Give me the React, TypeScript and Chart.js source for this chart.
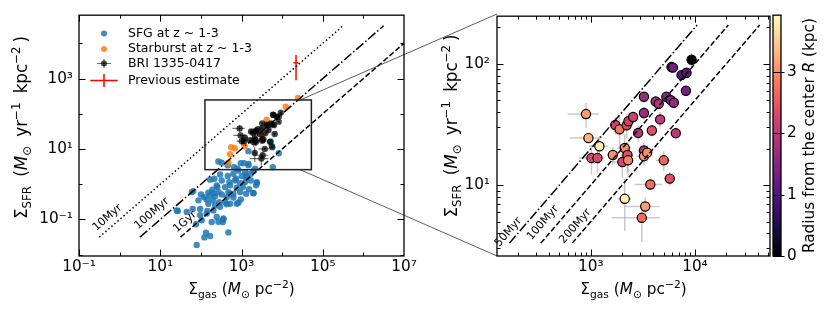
import { useEffect, useRef } from 'react';
import { Chart, registerables } from 'chart.js';

Chart.register(...registerables);

const FONT = "'DejaVu Sans', 'Liberation Sans', sans-serif";
const W = 830;
const H = 317;

// ---------------- data ----------------
// SFG at z ~ 1-3 (blue)
const sfgGas = [5260, 5560, 1480, 8280, 5890, 270, 327, 459, 960, 1480,
  657, 794, 1230, 1690, 297, 459, 632, 1020, 1300, 1970,
  215, 327, 504, 695, 925, 1230, 1690, 2380, 246, 394,
  524, 764, 1080, 1540, 2290, 192, 270, 476, 632, 925,
  1300, 1970, 65, 153, 101, 120, 169, 224, 327, 434,
  632, 960, 87, 139, 196, 281, 394, 524, 840, 153,
  224, 297, 434, 96, 145, 204, 27, 45, 63, 96,
  139, 246, 359, 105, 270, 76, 134, 122, 169, 476,
  79, 1160, 1480, 840, 2160, 736, 1300, 2380, 169, 255,
  203, 524, 60, 25.5, 1960, 766, 185, 358, 346];
const sfgSfr = [16.3, 12.3, 8.7, 7.6, 3.06, 4.43, 4.06, 3.48, 3.97, 3.8,
  3.06, 2.75, 2.21, 1.99, 1.9, 1.71, 1.99, 1.71, 1.53, 2.4,
  1.43, 1.28, 1.15, 1.28, 1.08, 1.15, 1.28, 1.15, 0.93, 0.83,
  0.93, 0.8, 0.83, 0.72, 0.93, 0.7, 0.6, 0.6, 0.54, 0.6,
  0.54, 0.56, 0.64, 0.58, 0.51, 0.43, 0.48, 0.46, 0.51, 0.43,
  0.42, 0.37, 0.35, 0.37, 0.35, 0.31, 0.31, 0.28, 0.3, 0.28,
  0.25, 0.23, 0.27, 0.2, 0.175, 0.18, 0.175, 0.164, 0.2, 0.132,
  0.147, 0.118, 0.1, 0.095, 0.086, 0.073, 0.042, 0.031, 0.034, 0.043,
  0.0188, 3.98, 3.49, 2.47, 2.75, 1.44, 1.78, 1.08, 1.35, 0.83,
  0.56, 0.54, 0.6, 0.18, 0.56, 0.28, 0.085, 0.107, 0.085];

// Starburst at z ~ 1-3 (orange)
const sbGas = [24500, 12300, 4170, 3310, 1200, 560, 680, 525, 475];
const sbSfr = [280, 158, 68, 24.5, 12.0, 11.2, 10.5, 7.1, 4.1];

// BRI 1335-0417 resolved points
const briGas = [900, 950, 1210, 1015, 1160, 1630, 1720, 1890, 2210, 2300,
  2550, 2120, 2250, 2010, 2280, 2850, 3240, 3240, 3240, 3240,
  3480, 3860, 4200, 4490, 4630, 5320, 5870, 6270, 6550, 5950,
  6150, 7430, 8300, 9290, 8190, 5020, 5730, 3730, 2120, 3330, 3090];
const briSfr = [38.5, 24.4, 20.9, 16.7, 16.7, 17.7, 31.3, 28.8, 31.1, 33.6,
  36.4, 20.2, 17.7, 15.5, 16.0, 26.9, 53.5, 39.3, 19.3, 17.3,
  18.5, 28.2, 48.9, 46.8, 34.8, 53.5, 50.1, 47.7, 26.8, 94,
  93, 80.7, 84.4, 108, 59.9, 16.0, 11.3, 10.1, 7.7, 6.66, 5.37];
const briGasErr = [300, 320, 250, 250, 200, 200, 150, 200, 300, 200,
  250, 300, 300, 400, 200, 250, 300, 300, 400, 500,
  400, 400, 400, 400, 500, 500, 500, 400, 600, 400,
  400, 600, 700, 600, 600, 800, 700, 1100, 300, 1200, 1500];
const briSfrErr = [9, 2, 4.5, 4.5, 4, 3, 5, 8, 7, 4,
  4, 6, 5, 4, 4, 4, 6, 5, 3, 3,
  3, 3, 4, 4, 5, 5, 4, 4, 3, 10,
  8, 8, 8, 15, 5, 3, 1.5, 1, 3.5, 1.2, 2];
const briRadius = [3.1, 3.3, 3.8, 2.3, 2.3, 3.0, 2.2, 2.8, 2.4, 2.2,
  2.2, 3.0, 2.4, 2.3, 2.9, 1.9, 1.7, 1.7, 1.9, 3.0,
  3.0, 2.4, 1.8, 1.9, 2.1, 1.5, 1.6, 1.6, 2.0, 1.3,
  1.3, 1.0, 1.1, 0.1, 1.3, 2.6, 2.4, 2.7, 3.8, 3.1, 2.7];

// Previous estimate (red)
const prevGas = [22000];
const prevSfr = [2800];
const prevGasErr = [3000];
const prevSfrErr = [1900];

// depletion-time tracks
const leftTrackLabels = ['10Myr', '100Myr', '1Gyr'];
const leftTrackGas = [[0.316, 316000], [3.16, 3160000], [31.6, 31600000]];
const leftTrackSfr = [[0.0316, 31600], [0.0316, 31600], [0.0316, 31600]];
const leftTrackLabelGas = [0.5, 6.2, 40.8];
const leftTrackLabelSfr = [0.112, 0.148, 0.0855];

const rightTrackLabels = ['50Myr', '100Myr', '200Myr'];
const rightTrackGas = [[166, 10500], [332, 20900], [664, 41800]];
const rightTrackSfr = [[3.32, 209], [3.32, 209], [3.32, 209]];
const rightTrackLabelGas = [162, 347, 711];
const rightTrackLabelSfr = [4.09, 4.88, 4.58];

// axis limits and ticks
const leftXMin = 0.1, leftXMax = 1e7, leftYMin = 0.0092, leftYMax = 63000;
const rightXMin = 126, rightXMax = 52500, rightYMin = 2.6, rightYMax = 247;
const radiusMin = 0, radiusMax = 3.92;
const connectorGas = 27700;

const leftXTicks = [0.1, 10, 1e3, 1e5, 1e7];
const leftXTickLabels = ['10⁻¹', '10¹', '10³', '10⁵', '10⁷'];
const leftXMinor = [1, 100, 1e4, 1e6];
const leftYTicks = [0.1, 10, 1000];
const leftYTickLabels = ['10⁻¹', '10¹', '10³'];
const leftYMinor = [0.01, 1, 100, 1e4];
const rightXTicks = [1e3, 1e4];
const rightXTickLabels = ['10³', '10⁴'];
const rightXMinor = [200, 300, 400, 500, 600, 700, 800, 900, 2000, 3000, 4000, 5000, 6000, 7000, 8000, 9000, 20000, 30000, 40000, 50000];
const rightYTicks = [10, 100];
const rightYTickLabels = ['10¹', '10²'];
const rightYMinor = [3, 4, 5, 6, 7, 8, 9, 20, 30, 40, 50, 60, 70, 80, 90, 200];
const cbarTicks = [0, 1, 2, 3];
const cbarTickLabels = ['0', '1', '2', '3'];

const legendLabels = ['SFG at z ~ 1-3', 'Starburst at z ~ 1-3', 'BRI 1335-0417', 'Previous estimate'];

// ---------------- layout / style ----------------
const LEFT = { left: 79, top: 14, right: 404, bottom: 256 };
const RIGHT = { left: 497, top: 14, right: 770, bottom: 256 };
const CBAR = { left: 773, top: 14, right: 781, bottom: 256 };

const BLUE = 'rgba(31,119,180,0.85)';
const ORANGE = 'rgba(255,127,14,0.85)';
const BLACK_A = 'rgba(0,0,0,0.72)';
const TICK_FONT = 15.3;
const TITLE_FONT = 15.3;
const YTITLE_FONT = 16.8;
const YTITLE_LEN = 183;

const MAGMA = ['#000004', '#140e36', '#3b0f70', '#641a80', '#8c2981', '#b73779', '#de4968', '#f7705c', '#fe9f6d', '#fecf92', '#fcfdbf'];
function hexToRgb(h: string) {
  return [parseInt(h.slice(1, 3), 16), parseInt(h.slice(3, 5), 16), parseInt(h.slice(5, 7), 16)];
}
function magma(t: number) {
  const c = Math.min(1, Math.max(0, t)) * (MAGMA.length - 1);
  const i = Math.min(MAGMA.length - 2, Math.floor(c));
  const f = c - i;
  const a = hexToRgb(MAGMA[i]);
  const b = hexToRgb(MAGMA[i + 1]);
  const m = a.map((v, k) => Math.round(v + (b[k] - v) * f));
  return `rgb(${m[0]},${m[1]},${m[2]})`;
}

type Seg = { t: string; it?: boolean; s?: number; dy?: number };
const SUB = 0.7;
const SUBDY = 0.24;
const SUPDY = -0.42;
const gasTitle: Seg[] = [{ t: 'Σ' }, { t: 'gas', s: SUB, dy: SUBDY }, { t: ' (' }, { t: 'M', it: true }, { t: '⊙', s: SUB, dy: SUBDY }, { t: ' pc' }, { t: '−2', s: SUB, dy: SUPDY }, { t: ')' }];
const sfrTitle: Seg[] = [{ t: 'Σ' }, { t: 'SFR', s: SUB, dy: SUBDY }, { t: ' (' }, { t: 'M', it: true }, { t: '⊙', s: SUB, dy: SUBDY }, { t: ' yr' }, { t: '−1', s: SUB, dy: SUPDY }, { t: ' kpc' }, { t: '−2', s: SUB, dy: SUPDY }, { t: ')' }];
const cbarTitle: Seg[] = [{ t: 'Radius from the center ' }, { t: 'R', it: true }, { t: ' (kpc)' }];

function richText(ctx: CanvasRenderingContext2D, segs: Seg[], x: number, y: number, size: number, rot: number, target?: number) {
  ctx.save();
  ctx.translate(x, y);
  ctx.rotate(rot);
  ctx.textBaseline = 'alphabetic';
  ctx.textAlign = 'left';
  ctx.fillStyle = '#000';
  const f = (g: Seg) => `${g.it ? 'italic ' : ''}${(size * (g.s ?? 1)).toFixed(2)}px ${FONT}`;
  let total = 0;
  const ws = segs.map((g) => {
    ctx.font = f(g);
    const w = ctx.measureText(g.t).width;
    total += w;
    return w;
  });
  // extra spacing only at word boundaries (before a space or after a superscript)
  const gapAt = segs.map((g, i) => i > 0 && (g.t.startsWith(' ') || (segs[i - 1].dy ?? 0) < 0));
  const nGaps = gapAt.filter(Boolean).length;
  const gap = target && nGaps > 0 ? Math.max(0, (target - total) / nGaps) : 0;
  const full = total + gap * nGaps;
  let cx = -full / 2;
  segs.forEach((g, i) => {
    if (gapAt[i]) cx += gap;
    ctx.font = f(g);
    ctx.fillText(g.t, cx, (g.dy ?? 0) * size);
    cx += ws[i];
  });
  ctx.restore();
}

function drawFrameTicks(chart: any, xMaj: number[], xMin: number[], yMaj: number[], yMin: number[]) {
  const { ctx, chartArea: a } = chart;
  const xs = chart.scales.x;
  const ys = chart.scales.y;
  const MAJ = 6.5;
  const MIN = 3.5;
  ctx.save();
  ctx.strokeStyle = '#000';
  ctx.lineWidth = 1;
  ctx.beginPath();
  const vx = (vals: number[], len: number) => vals.forEach((v) => {
    const p = Math.round(xs.getPixelForValue(v)) + 0.5;
    if (p < a.left || p > a.right) return;
    ctx.moveTo(p, a.bottom); ctx.lineTo(p, a.bottom - len);
    ctx.moveTo(p, a.top); ctx.lineTo(p, a.top + len);
  });
  const vy = (vals: number[], len: number) => vals.forEach((v) => {
    const p = Math.round(ys.getPixelForValue(v)) + 0.5;
    if (p < a.top || p > a.bottom) return;
    ctx.moveTo(a.left, p); ctx.lineTo(a.left + len, p);
    ctx.moveTo(a.right, p); ctx.lineTo(a.right - len, p);
  });
  vx(xMaj, MAJ); vx(xMin, MIN); vy(yMaj, MAJ); vy(yMin, MIN);
  ctx.stroke();
  ctx.lineWidth = 1.3;
  ctx.strokeRect(a.left, a.top, a.right - a.left, a.bottom - a.top);
  ctx.restore();
}

function drawErrorBars(chart: any, gas: number[], sfr: number[], gErr: number[], sErr: number[], color: string, lw: number) {
  const { ctx, chartArea: a } = chart;
  const xs = chart.scales.x;
  const ys = chart.scales.y;
  ctx.save();
  ctx.beginPath();
  ctx.rect(a.left, a.top, a.right - a.left, a.bottom - a.top);
  ctx.clip();
  ctx.strokeStyle = color;
  ctx.lineWidth = lw;
  gas.forEach((g, i) => {
    const px = xs.getPixelForValue(g);
    const py = ys.getPixelForValue(sfr[i]);
    const xl = xs.getPixelForValue(Math.max(g - gErr[i], xs.min * 0.5));
    const xr = xs.getPixelForValue(g + gErr[i]);
    const yb = ys.getPixelForValue(Math.max(sfr[i] - sErr[i], ys.min * 0.5));
    const yt = ys.getPixelForValue(sfr[i] + sErr[i]);
    ctx.beginPath();
    ctx.moveTo(xl, py); ctx.lineTo(xr, py);
    ctx.stroke();
    ctx.beginPath();
    ctx.moveTo(px, yb); ctx.lineTo(px, yt);
    ctx.stroke();
  });
  ctx.restore();
}

function drawTrackLabels(chart: any, labels: string[], gx: number[], sy: number[], size: number) {
  const { ctx } = chart;
  const xs = chart.scales.x;
  const ys = chart.scales.y;
  const ang = Math.atan2(ys.getPixelForValue(10) - ys.getPixelForValue(1), xs.getPixelForValue(10) - xs.getPixelForValue(1));
  ctx.save();
  ctx.fillStyle = '#000';
  ctx.font = `${size}px ${FONT}`;
  ctx.textAlign = 'center';
  ctx.textBaseline = 'middle';
  labels.forEach((l, i) => {
    ctx.save();
    ctx.translate(xs.getPixelForValue(gx[i]), ys.getPixelForValue(sy[i]));
    ctx.rotate(ang);
    ctx.fillText(l, 0, 0);
    ctx.restore();
  });
  ctx.restore();
}

function logScale(min: number, max: number, ticks: number[], labels: string[], fit: (s: any) => void, padding: number) {
  return {
    type: 'logarithmic',
    min,
    max,
    afterBuildTicks: (s: any) => { s.ticks = ticks.map((v) => ({ value: v })); },
    afterFit: fit,
    grid: { display: false, drawTicks: false },
    border: { display: false },
    ticks: {
      autoSkip: false,
      maxRotation: 0,
      padding,
      color: '#000',
      font: { family: FONT, size: TICK_FONT },
      callback: (_v: any, i: number) => labels[i],
    },
  };
}

function trackDatasets(gas: number[][], sfr: number[][], dashes: number[][]) {
  return gas.map((g, i) => ({
    type: 'scatter',
    data: [{ x: g[0], y: sfr[i][0] }, { x: g[1], y: sfr[i][1] }],
    showLine: true,
    borderColor: '#000',
    borderWidth: 1.5,
    borderDash: dashes[i],
    pointRadius: 0,
    order: 0,
  }));
}

const DOTTED = [1.5, 2.5];
const DASHDOT = [9.6, 2.4, 1.5, 2.4];
const DASHED = [5.5, 2.4];

const baseOptions = {
  responsive: false,
  animation: false,
  devicePixelRatio: 1,
  events: [],
  plugins: { legend: { display: false }, tooltip: { enabled: false } },
};

function leftConfig(): any {
  return {
    type: 'scatter',
    data: {
      datasets: [
        ...trackDatasets(leftTrackGas, leftTrackSfr, [DOTTED, DASHDOT, DASHED]),
        { data: briGas.map((x, i) => ({ x, y: briSfr[i] })), pointRadius: 3.2, pointBackgroundColor: BLACK_A, pointBorderWidth: 0, order: 1 },
        { data: sbGas.map((x, i) => ({ x, y: sbSfr[i] })), pointRadius: 3.2, pointBackgroundColor: ORANGE, pointBorderWidth: 0, order: 2 },
        { data: sfgGas.map((x, i) => ({ x, y: sfgSfr[i] })), pointRadius: 3.2, pointBackgroundColor: BLUE, pointBorderWidth: 0, order: 3 },
      ],
    },
    options: {
      ...baseOptions,
      layout: { padding: { left: 0, top: LEFT.top, right: W - LEFT.right, bottom: 0 } },
      scales: {
        x: logScale(leftXMin, leftXMax, leftXTicks, leftXTickLabels, (s: any) => { s.height = H - LEFT.bottom; }, 2),
        y: logScale(leftYMin, leftYMax, leftYTicks, leftYTickLabels, (s: any) => { s.width = LEFT.left; }, 6),
      },
    },
    plugins: [{
      id: 'leftDecor',
      beforeDatasetsDraw(chart: any) {
        drawErrorBars(chart, briGas, briSfr, briGasErr, briSfrErr, 'rgba(0,0,0,0.55)', 1.2);
        drawErrorBars(chart, prevGas, prevSfr, prevGasErr, prevSfrErr, '#ff0000', 1.5);
      },
      afterDatasetsDraw(chart: any) {
        const { ctx } = chart;
        const xs = chart.scales.x;
        const ys = chart.scales.y;
        const x0 = xs.getPixelForValue(rightXMin);
        const x1 = xs.getPixelForValue(rightXMax);
        const y0 = ys.getPixelForValue(rightYMax);
        const y1 = ys.getPixelForValue(rightYMin);
        ctx.save();
        ctx.strokeStyle = '#222';
        ctx.lineWidth = 1.5;
        ctx.strokeRect(x0, y0, x1 - x0, y1 - y0);
        ctx.lineWidth = 0.8;
        ctx.strokeStyle = '#333';
        const cx = xs.getPixelForValue(connectorGas);
        ctx.beginPath();
        ctx.moveTo(cx, y0); ctx.lineTo(RIGHT.left, RIGHT.top);
        ctx.moveTo(cx, y1); ctx.lineTo(RIGHT.left, RIGHT.bottom);
        ctx.stroke();
        ctx.restore();
      },
      afterDraw(chart: any) {
        const { ctx, chartArea: a } = chart;
        drawFrameTicks(chart, leftXTicks, leftXMinor, leftYTicks, leftYMinor);
        drawTrackLabels(chart, leftTrackLabels, leftTrackLabelGas, leftTrackLabelSfr, 11.1);
        // legend
        const rows = [18.3, 33.7, 48.3, 65.3];
        const mx = a.left + 25;
        const tx = a.left + 49;
        ctx.save();
        ctx.font = `12.5px ${FONT}`;
        ctx.textBaseline = 'middle';
        ctx.textAlign = 'left';
        ctx.fillStyle = '#000';
        legendLabels.forEach((l, i) => ctx.fillText(l, tx, a.top + rows[i]));
        const dot = (y: number, c: string) => { ctx.fillStyle = c; ctx.beginPath(); ctx.arc(mx, y, 3, 0, Math.PI * 2); ctx.fill(); };
        dot(a.top + rows[0], BLUE);
        dot(a.top + rows[1], ORANGE);
        ctx.strokeStyle = 'rgba(0,0,0,0.55)';
        ctx.lineWidth = 1.2;
        ctx.beginPath();
        ctx.moveTo(mx - 7, a.top + rows[2]); ctx.lineTo(mx + 7, a.top + rows[2]);
        ctx.moveTo(mx, a.top + rows[2] - 4.5); ctx.lineTo(mx, a.top + rows[2] + 4.5);
        ctx.stroke();
        dot(a.top + rows[2], BLACK_A);
        ctx.strokeStyle = '#ff0000';
        ctx.lineWidth = 1.5;
        ctx.beginPath();
        ctx.moveTo(mx - 13.7, a.top + rows[3]); ctx.lineTo(mx + 13.7, a.top + rows[3]);
        ctx.moveTo(mx, a.top + rows[3] - 6.5); ctx.lineTo(mx, a.top + rows[3] + 6.5);
        ctx.stroke();
        ctx.restore();
        // axis titles
        richText(ctx, gasTitle, (a.left + a.right) / 2, 294, TITLE_FONT, 0);
        richText(ctx, sfrTitle, 27, 127.5, YTITLE_FONT, -Math.PI / 2, YTITLE_LEN);
      },
    }],
  };
}

function rightConfig(): any {
  return {
    type: 'scatter',
    data: {
      datasets: [
        ...trackDatasets(rightTrackGas, rightTrackSfr, [DASHDOT, DASHED, DASHED]),
        {
          data: briGas.map((x, i) => ({ x, y: briSfr[i] })),
          pointRadius: 4.6,
          pointBackgroundColor: briRadius.map((r) => magma((r - radiusMin) / (radiusMax - radiusMin))),
          pointBorderColor: '#000',
          pointBorderWidth: 1.2,
          order: 1,
        },
      ],
    },
    options: {
      ...baseOptions,
      layout: { padding: { left: 0, top: RIGHT.top, right: W - RIGHT.right, bottom: 0 } },
      scales: {
        x: logScale(rightXMin, rightXMax, rightXTicks, rightXTickLabels, (s: any) => { s.height = H - RIGHT.bottom; }, 2),
        y: logScale(rightYMin, rightYMax, rightYTicks, rightYTickLabels, (s: any) => { s.width = RIGHT.left; }, 7),
      },
    },
    plugins: [{
      id: 'rightDecor',
      beforeDatasetsDraw(chart: any) {
        drawErrorBars(chart, briGas, briSfr, briGasErr, briSfrErr, 'rgba(150,150,150,0.5)', 1.5);
      },
      afterDraw(chart: any) {
        const { ctx, chartArea: a } = chart;
        drawFrameTicks(chart, rightXTicks, rightXMinor, rightYTicks, rightYMinor);
        drawTrackLabels(chart, rightTrackLabels, rightTrackLabelGas, rightTrackLabelSfr, 11.1);
        richText(ctx, gasTitle, (a.left + a.right) / 2, 294, TITLE_FONT, 0);
        richText(ctx, sfrTitle, 457, 126, YTITLE_FONT, -Math.PI / 2, YTITLE_LEN);
      },
    }],
  };
}

function cbarConfig(): any {
  return {
    type: 'scatter',
    data: { datasets: [] },
    options: {
      ...baseOptions,
      layout: { padding: { left: CBAR.left, top: CBAR.top, right: 0, bottom: H - CBAR.bottom } },
      scales: {
        x: { type: 'linear', display: false },
        y: {
          type: 'linear',
          position: 'right',
          min: radiusMin,
          max: radiusMax,
          afterBuildTicks: (s: any) => { s.ticks = cbarTicks.map((v) => ({ value: v })); },
          afterFit: (s: any) => { s.width = W - CBAR.right; },
          grid: { display: false, drawTicks: false },
          border: { display: false },
          ticks: {
            padding: 6,
            color: '#000',
            font: { family: FONT, size: TICK_FONT },
            callback: (_v: any, i: number) => cbarTickLabels[i],
          },
        },
      },
    },
    plugins: [{
      id: 'cbarDecor',
      beforeDraw(chart: any) {
        const { ctx, chartArea: a } = chart;
        const g = ctx.createLinearGradient(0, a.bottom, 0, a.top);
        MAGMA.forEach((c, i) => g.addColorStop(i / (MAGMA.length - 1), c));
        ctx.save();
        ctx.fillStyle = g;
        ctx.fillRect(a.left, a.top, a.right - a.left, a.bottom - a.top);
        ctx.restore();
      },
      afterDraw(chart: any) {
        const { ctx, chartArea: a } = chart;
        const ys = chart.scales.y;
        ctx.save();
        ctx.strokeStyle = '#000';
        ctx.lineWidth = 1;
        ctx.beginPath();
        cbarTicks.forEach((v) => {
          const p = Math.round(ys.getPixelForValue(v)) + 0.5;
          ctx.moveTo(a.left, p); ctx.lineTo(a.right + 3.5, p);
        });
        ctx.stroke();
        ctx.lineWidth = 1.3;
        ctx.strokeRect(a.left, a.top, a.right - a.left, a.bottom - a.top);
        ctx.restore();
        richText(ctx, cbarTitle, 814, (a.top + a.bottom) / 2, TITLE_FONT, -Math.PI / 2);
      },
    }],
  };
}

export default function App() {
  const leftRef = useRef<HTMLCanvasElement>(null);
  const rightRef = useRef<HTMLCanvasElement>(null);
  const cbarRef = useRef<HTMLCanvasElement>(null);

  useEffect(() => {
    const c1 = new Chart(leftRef.current as HTMLCanvasElement, leftConfig());
    const c2 = new Chart(rightRef.current as HTMLCanvasElement, rightConfig());
    const c3 = new Chart(cbarRef.current as HTMLCanvasElement, cbarConfig());
    return () => { c1.destroy(); c2.destroy(); c3.destroy(); };
  }, []);

  const cs: any = { position: 'absolute', left: 0, top: 0, width: W, height: H };
  return (
    <div style={{ position: 'absolute', left: 0, top: 0, width: W, height: H, background: '#fff' }}>
      <canvas ref={leftRef} width={W} height={H} style={cs} />
      <canvas ref={rightRef} width={W} height={H} style={cs} />
      <canvas ref={cbarRef} width={W} height={H} style={cs} />
    </div>
  );
}
